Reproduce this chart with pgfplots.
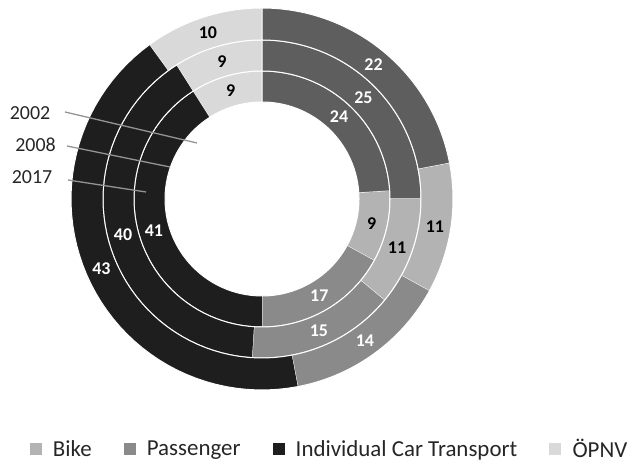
\documentclass[border=0pt]{standalone}
\usepackage{pgfplots}
\pgfplotsset{compat=1.18}
\usepackage{fontspec}
\setmainfont{Carlito}
\definecolor{cWalk}{HTML}{5E5E5E}
\definecolor{cBike}{HTML}{B3B3B3}
\definecolor{cPass}{HTML}{8A8A8A}
\definecolor{cCar}{HTML}{1E1E1E}
\definecolor{cOePNV}{HTML}{D9D9D9}

\newcommand\lab{\fontsize{18}{20}\selectfont\bfseries}

% one annular sector: color, inner r, outer r, start %, end %, label, label colour
\newcommand\seg[7]{%
 \edef\tmp{\noexpand\addplot[forget plot, fill=#1, draw=white, line width=1bp, domain=0:2, samples=101]
 ({((x<1.01)?#3:#2)*cos(90-3.6*((x<1.01)?(#4+(#5-#4)*min(x,1)):(#5-(#5-#4)*min(max((x-1.02)/0.98,0),1))))},
  {((x<1.01)?#3:#2)*sin(90-3.6*((x<1.01)?(#4+(#5-#4)*min(x,1)):(#5-(#5-#4)*min(max((x-1.02)/0.98,0),1))))});}%
 \tmp
 \pgfmathsetmacro\ma{90-1.8*(#4+#5)}%
 \pgfmathsetmacro\mr{(#2+#3)/2}%
 \pgfmathsetmacro\mx{\mr*cos(\ma)}%
 \pgfmathsetmacro\my{\mr*sin(\ma)}%
 \edef\tmp{\noexpand\node[text=#7, font=\noexpand\lab, anchor=center] at (axis cs:\mx,\my) {#6};}%
 \tmp
}
% one ring: inner r, outer r, Walking, Bike, Passenger, Car, OePNV (percent)
\newcommand\ring[7]{%
 \pgfmathsetmacro\ca{#3}%
 \pgfmathsetmacro\cb{\ca+#4}%
 \pgfmathsetmacro\cc{\cb+#5}%
 \pgfmathsetmacro\cd{\cc+#6}%
 \pgfmathsetmacro\ce{\cd+#7}%
 \seg{cWalk}{#1}{#2}{0}{\ca}{#3}{white}%
 \seg{cBike}{#1}{#2}{\ca}{\cb}{#4}{black}%
 \seg{cPass}{#1}{#2}{\cb}{\cc}{#5}{white}%
 \seg{cCar}{#1}{#2}{\cc}{\cd}{#6}{white}%
 \seg{cOePNV}{#1}{#2}{\cd}{\ce}{#7}{black}%
}

\begin{document}
\begin{tikzpicture}
\begin{axis}[
  x=1bp, y=1bp,
  xmin=-262, xmax=374, ymin=-268, ymax=199,
  hide axis, clip=false,
  legend columns=4,
  legend style={at={(axis cs:67.5,-250)}, anchor=center, draw=none, fill=none,
    font=\fontsize{23}{26}\selectfont, inner sep=0pt, text=black!85,
    /tikz/every even column/.append style={column sep=30bp}},
]
\path (rel axis cs:0,0) rectangle (rel axis cs:1,1);
% 2002 (inner), 2008 (middle), 2017 (outer)
\ring{97}{128}{24}{9}{17}{41}{9}
\ring{128}{159}{25}{11}{15}{40}{9}
\ring{159}{191}{22}{11}{14}{43}{10}

\draw[color=black!42, line width=1.3bp] (axis cs:-197,87) -- (axis cs:-65,56);
\draw[color=black!42, line width=1.3bp] (axis cs:-195,53) -- (axis cs:-92,32);
\draw[color=black!42, line width=1.3bp] (axis cs:-194,19) -- (axis cs:-116,7);
\node[font=\fontsize{20}{22}\selectfont, text=black!85] at (axis cs:-232,86) {2002};
\node[font=\fontsize{20}{22}\selectfont, text=black!85] at (axis cs:-226.5,54) {2008};
\node[font=\fontsize{20}{22}\selectfont, text=black!85] at (axis cs:-230,22) {2017};

\addlegendimage{legend image code/.code={\fill[cBike] (0bp,-5.5bp) rectangle (11bp,5.5bp); \path[draw=none,fill=none] (0bp,0bp) rectangle (21bp,0.1bp);}}
\addlegendentry{Bike}
\addlegendimage{legend image code/.code={\fill[cPass] (0bp,-5.5bp) rectangle (11bp,5.5bp); \path[draw=none,fill=none] (0bp,0bp) rectangle (21bp,0.1bp);}}
\addlegendentry{Passenger}
\addlegendimage{legend image code/.code={\fill[cCar] (0bp,-5.5bp) rectangle (11bp,5.5bp); \path[draw=none,fill=none] (0bp,0bp) rectangle (21bp,0.1bp);}}
\addlegendentry{Individual Car Transport}
\addlegendimage{legend image code/.code={\fill[cOePNV] (0bp,-5.5bp) rectangle (11bp,5.5bp); \path[draw=none,fill=none] (0bp,0bp) rectangle (21bp,0.1bp);}}
\addlegendentry{ÖPNV}
\end{axis}
\end{tikzpicture}
\end{document}
